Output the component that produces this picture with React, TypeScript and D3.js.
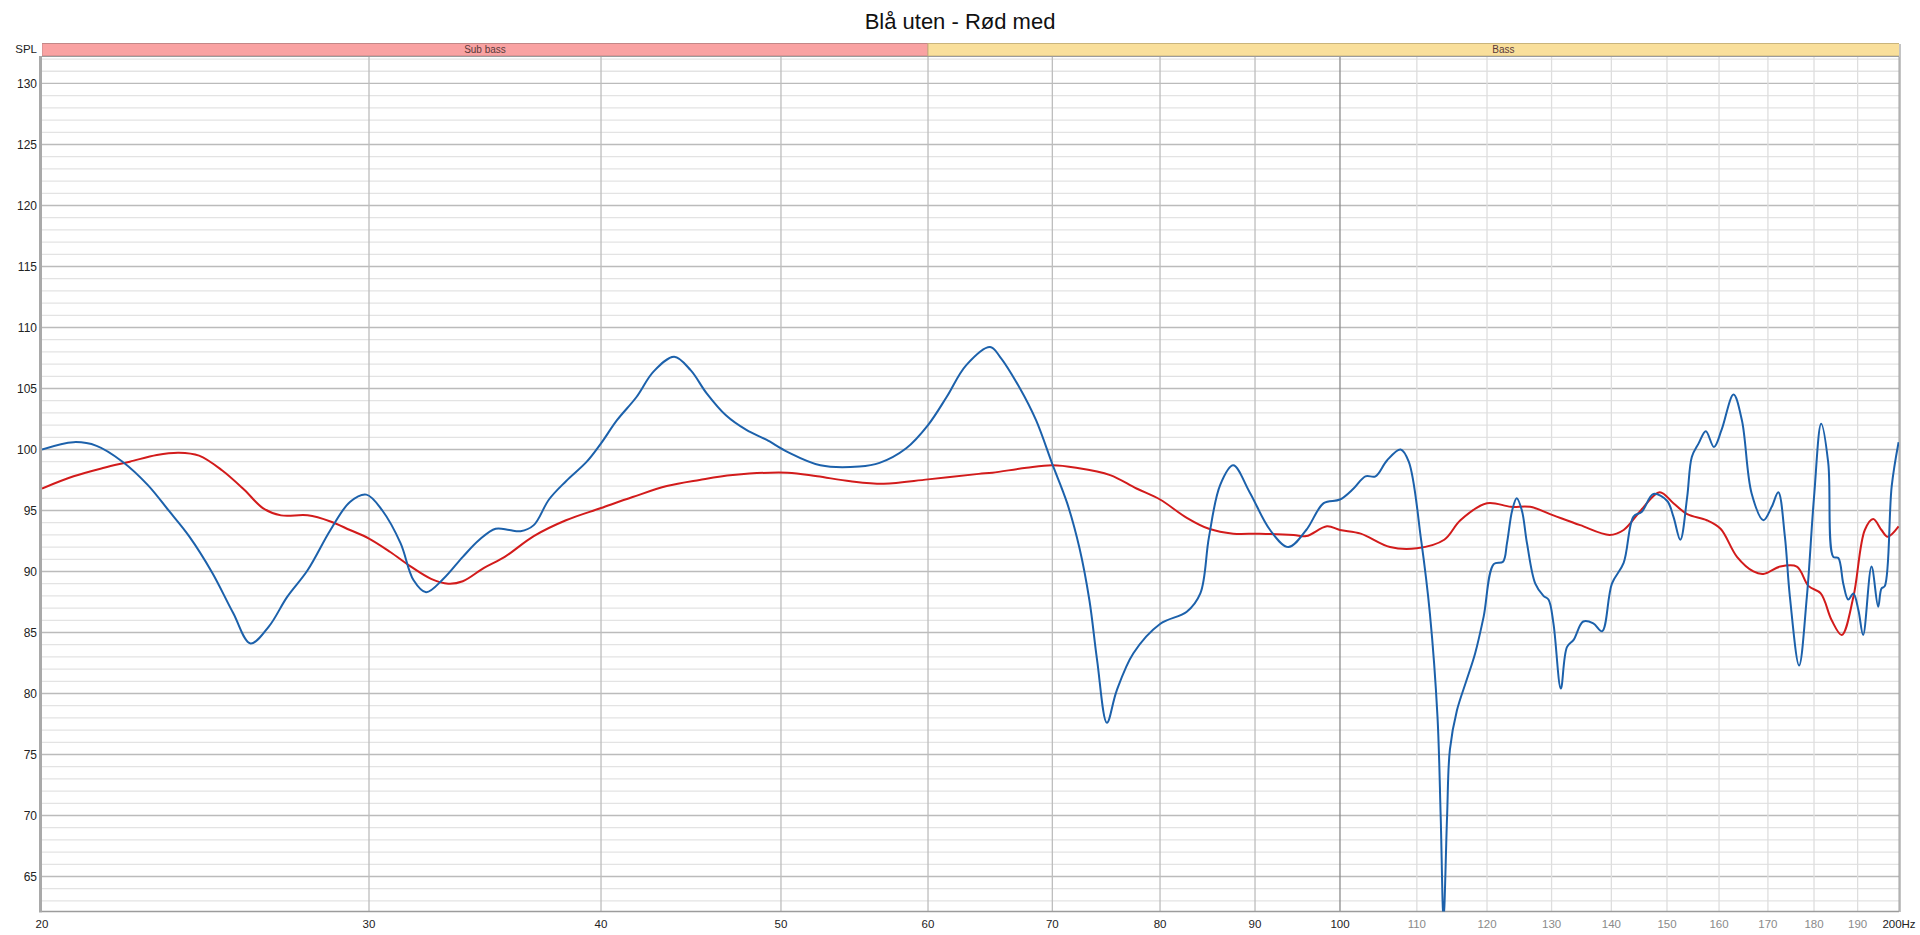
import React, { useEffect } from 'react'
import * as d3 from 'd3'

const title = 'Blå uten - Rød med'

// blue = uten (without), red = med (with)
const blueFreq = [
  20.0, 20.8, 21.4, 22.1, 22.8, 23.4, 24.0, 24.7, 25.35, 25.9, 26.5, 27.1, 27.8, 28.6, 29.3, 29.9,
  30.5, 31.2, 31.7, 32.2, 32.9, 33.7, 34.4, 35.1, 35.7, 36.2, 36.8, 37.5, 38.3, 39.3, 40.0, 40.8,
  41.8, 42.7, 43.8, 44.7, 45.6, 46.7, 47.9, 49.1, 50.4, 52.5, 55.1, 56.5, 58.4, 60.0, 61.4, 62.9,
  64.8, 65.6, 67.25, 68.6, 70.0, 71.3, 72.4, 73.3, 74.0, 74.9, 75.8, 77.4, 80.0, 82.7, 84.1, 85.0,
  86.2, 87.6, 89.4, 91.7, 93.8, 95.9, 98.0, 100.0, 101.7, 103.2, 104.5, 106.0, 107.8, 108.9, 110.6,
  111.8, 112.85, 113.3, 113.7, 114.2, 114.6, 115.6, 117.0, 118.25, 119.5, 121.0, 122.4, 123.0,
  123.8, 124.5, 125.3, 126.1, 127.4, 128.7, 129.5, 130.3, 131.5, 132.5, 133.6, 135.2, 136.9, 138.4,
  140.1, 142.15, 143.9, 145.4, 147.5, 150.0, 151.2, 152.5, 153.8, 154.7, 156.0, 157.4, 159.0, 160.5,
  162.9, 164.6, 166.6, 169.05, 170.8, 172.2, 173.6, 174.7, 176.7, 178.4, 180.0, 181.6, 183.2, 184.35,
  185.5, 186.65, 187.8, 189.0, 190.2, 191.3, 193.3, 194.9, 195.7, 196.5, 198.2, 199.9,
]
const blueSpl = [
  100.0, 100.6, 100.3, 99.0, 97.1, 95.0, 92.9, 89.9, 86.6, 84.1, 85.5, 87.9, 90.1, 93.4, 95.7, 96.3,
  95.0, 92.3, 89.3, 88.3, 89.4, 91.2, 92.6, 93.5, 93.4, 93.3, 93.8, 95.9, 97.4, 99.0, 100.5, 102.4,
  104.3, 106.4, 107.6, 106.5, 104.6, 102.8, 101.6, 100.8, 99.8, 98.7, 98.6, 98.9, 100.1, 102.0, 104.3, 106.9,
  108.4, 107.6, 105.0, 102.4, 98.8, 95.6, 91.9, 87.6, 82.7, 77.6, 80.2, 83.3, 85.7, 86.7, 88.2, 92.8,
  97.1, 98.7, 96.5, 93.4, 92.0, 93.4, 95.6, 95.9, 96.8, 97.8, 97.8, 99.1, 100.0, 99.0, 92.5,
  86.5, 78.1, 69.9, 61.5, 69.9, 75.4, 78.6, 81.1, 83.3, 86.3, 90.6, 90.8, 92.3,
  95.0, 96.0, 95.0, 92.3, 89.0, 88.0, 87.7, 85.75, 80.4, 83.8, 84.4, 85.9, 85.75, 85.1,
  89.0, 90.7, 94.5, 94.9, 96.35, 95.8, 94.5, 92.6, 96.1, 99.4, 100.5, 101.5, 100.2, 101.6,
  104.5, 102.4, 96.4, 94.2, 95.3, 96.5, 92.9, 87.9, 82.3, 87.9, 96.1, 102.1, 98.9, 91.2,
  91.1, 89.0, 87.7, 88.2, 86.8, 84.8, 90.4, 87.1, 88.6, 88.8, 97.0, 100.6,
]

const redFreq = [
  20.0, 20.8, 21.6, 22.3, 23.06, 23.7, 24.3, 25.0, 25.7, 26.3, 26.9, 27.8, 28.6, 29.3, 30.0, 30.8,
  31.6, 32.4, 33.1, 33.7, 34.6, 35.5, 36.8, 38.3, 40.0, 41.6, 43.4, 45.2, 47.1, 50.4, 52.3, 54.5,
  56.8, 60.0, 63.9, 65.0, 67.8, 70.0, 72.1, 75.2, 77.7, 80.0, 82.7, 85.0, 87.6, 90.5, 94.4, 95.9,
  98.4, 100.0, 102.6, 106.4, 110.0, 113.8, 116.1, 120.0, 123.6, 126.6, 130.3, 134.7, 139.7, 142.15,
  145.2, 148.65, 151.2, 153.8, 157.6, 160.3, 163.6, 166.97, 169.05, 172.6, 176.2, 178.8, 181.5,
  183.99, 186.3, 189.0, 191.7, 193.7, 195.7, 197.2, 199.9,
]
const redSpl = [
  96.8, 97.8, 98.5, 99.0, 99.55, 99.74, 99.5, 98.3, 96.7, 95.2, 94.6, 94.6, 94.1, 93.4, 92.7, 91.6,
  90.4, 89.4, 89.0, 89.2, 90.3, 91.2, 92.9, 94.2, 95.2, 96.1, 97.0, 97.5, 97.9, 98.1, 97.8, 97.4,
  97.2, 97.55, 98.0, 98.1, 98.5, 98.7, 98.5, 97.9, 96.8, 95.9, 94.4, 93.5, 93.1, 93.1, 93.0, 92.9,
  93.7, 93.4, 93.1, 92.0, 91.9, 92.6, 94.2, 95.6, 95.3, 95.3, 94.6, 93.8, 93.0, 93.4,
  95.0, 96.5, 95.6, 94.7, 94.2, 93.5, 91.2, 90.0, 89.8, 90.4, 90.4, 88.8, 88.2,
  86.0, 84.8, 87.9, 93.4, 94.3, 93.4, 92.85, 93.7,
]

const yTicks = [65, 70, 75, 80, 85, 90, 95, 100, 105, 110, 115, 120, 125, 130]
const xTicks = [20, 30, 40, 50, 60, 70, 80, 90, 100, 110, 120, 130, 140, 150, 160, 170, 180, 190, 200]

const bandNames = ['Sub bass', 'Bass']
const bandLo = [20, 60]
const bandHi = [60, 250]
const bandFill = ['#f9a2a2', '#f9df9b']
const bandStroke = ['#c28787', '#c9b47c']

const W = 1920
const H = 935
const left = 42
const right = 1899
const top = 57
const bottom = 911.5
const font = '"Liberation Sans", Arial, sans-serif'

const App: React.FC = () => {
  useEffect(() => {
    document.body.style.margin = '0'
  }, [])

  const x = d3.scaleLog().domain([20, 200]).range([left, right])
  const y = d3.scaleLinear().domain([62.13, 132.17]).range([bottom, top])

  const line = d3
    .line<[number, number]>()
    .x((d) => x(d[0]))
    .y((d) => y(d[1]))
    .curve(d3.curveCatmullRom.alpha(0.5))

  const bluePath = line(blueFreq.map((f, i) => [f, blueSpl[i]])) || ''
  const redPath = line(redFreq.map((f, i) => [f, redSpl[i]])) || ''

  const minor = d3.range(63, 133).filter((v) => v % 5 !== 0)

  const vColor = (f: number) => (f === 100 ? '#8c8c8c' : f < 100 ? '#bdbdbd' : '#dedede')
  const labelColor = (f: number) => (f <= 100 || f === 200 ? '#222' : '#8a8a8a')

  return (
    <svg width={W} height={H} style={{ display: 'block', background: '#fff' }} fontFamily={font}>
      <defs>
        <clipPath id="plot">
          <rect x={left} y={top} width={right - left} height={bottom - top} />
        </clipPath>
        <clipPath id="bandclip">
          <rect x={left} y={40} width={right - left} height={20} />
        </clipPath>
      </defs>

      <text x={W / 2} y={29} textAnchor="middle" fontSize={22} fill="#111">
        {title}
      </text>

      {/* frequency bands */}
      <g clipPath="url(#bandclip)">
        {bandNames.map((name, i) => (
          <rect
            key={name}
            x={x(bandLo[i])}
            y={43.5}
            width={x(bandHi[i]) - x(bandLo[i])}
            height={12.5}
            fill={bandFill[i]}
            stroke={bandStroke[i]}
            strokeWidth={1}
          />
        ))}
      </g>
      {bandNames.map((name, i) => (
        <text
          key={name}
          x={x(Math.sqrt(bandLo[i] * bandHi[i]))}
          y={53}
          textAnchor="middle"
          fontSize={10}
          fill="#5a3a3a"
        >
          {name}
        </text>
      ))}
      <line x1={right + 1} x2={right + 1} y1={44} y2={912} stroke="#c4c4c4" strokeWidth={2} />

      <text x={37} y={52.5} textAnchor="end" fontSize={11.5} fill="#222">
        SPL
      </text>

      {/* grid */}
      <rect x={left} y={top} width={right - left} height={bottom - top} fill="#fff" />
      {minor.map((v) => (
        <line key={'m' + v} x1={left} x2={right} y1={y(v)} y2={y(v)} stroke="#e3e3e3" strokeWidth={1.3} />
      ))}
      {yTicks.map((v) => (
        <line key={'M' + v} x1={left} x2={right} y1={y(v)} y2={y(v)} stroke="#bbbbbb" strokeWidth={1.3} />
      ))}
      {xTicks
        .filter((f) => f > 20 && f < 200)
        .map((f) => (
          <line key={'v' + f} x1={x(f)} x2={x(f)} y1={top} y2={bottom} stroke={vColor(f)} strokeWidth={1.3} />
        ))}

      {/* frame */}
      <line x1={left - 1.5} x2={left - 1.5} y1={top - 1} y2={bottom + 1} stroke="#a9a9a9" strokeWidth={3} />
      <line x1={left} x2={right} y1={bottom} y2={bottom} stroke="#9c9c9c" strokeWidth={1.5} />
      <line x1={left} x2={right} y1={top - 0.5} y2={top - 0.5} stroke="#9c9c9c" strokeWidth={1} />
      <line x1={right} x2={right} y1={top} y2={bottom} stroke="#a0a0a0" strokeWidth={1} />

      {/* curves */}
      <g clipPath="url(#plot)" fill="none" strokeWidth={2} strokeLinejoin="round">
        <path d={redPath} stroke="#d21b1b" />
        <path d={bluePath} stroke="#1c61ab" />
      </g>

      {/* axis labels */}
      {yTicks.map((v) => (
        <text key={'yl' + v} x={37} y={y(v) + 4.2} textAnchor="end" fontSize={12} fill="#222">
          {v}
        </text>
      ))}
      {xTicks.map((f) => (
        <text key={'xl' + f} x={x(f)} y={927.5} textAnchor="middle" fontSize={11.5} fill={labelColor(f)}>
          {f === 200 ? '200Hz' : f}
        </text>
      ))}
    </svg>
  )
}

export default App
